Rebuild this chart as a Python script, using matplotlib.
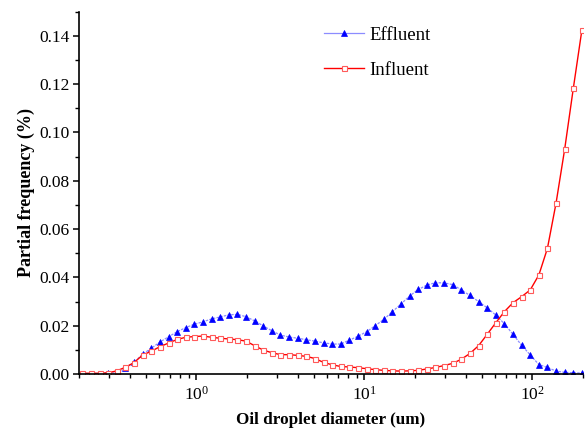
import matplotlib

matplotlib.use("Agg")

import matplotlib.pyplot as plt
from matplotlib.ticker import FixedLocator, LogLocator, NullFormatter, FormatStrFormatter

plt.rcParams["font.family"] = ["Liberation Serif", "DejaVu Serif"]
plt.rcParams["mathtext.fontset"] = "stix"

# droplet size classes (um)
diameter = [
    0.209, 0.236, 0.265, 0.298, 0.336, 0.378, 0.425, 0.479, 0.539, 0.606,
    0.682, 0.768, 0.864, 0.972, 1.094, 1.231, 1.385, 1.559, 1.754, 1.974,
    2.221, 2.499, 2.813, 3.165, 3.562, 4.008, 4.510, 5.075, 5.711, 6.427,
    7.232, 8.138, 9.158, 10.31, 11.60, 13.05, 14.68, 16.52, 18.59, 20.92,
    23.55, 26.50, 29.82, 33.55, 37.76, 42.49, 47.81, 53.80, 60.55, 68.13,
    76.67, 86.28, 97.09, 109.3, 122.9, 138.3, 155.7, 175.2, 197.1,
]

effluent = [
    0.0002, 0.0002, 0.0002, 0.0006, 0.0003, 0.0024, 0.0049, 0.0082, 0.0107, 0.0132,
    0.0154, 0.0175, 0.0192, 0.0206, 0.0216, 0.0228, 0.0236, 0.0245, 0.0247, 0.0237,
    0.0220, 0.0199, 0.0179, 0.0161, 0.0153, 0.0148, 0.0142, 0.0136, 0.0129, 0.0124,
    0.0124, 0.0140, 0.0156, 0.0175, 0.0200, 0.0226, 0.0258, 0.0290, 0.0323, 0.0350,
    0.0368, 0.0378, 0.0377, 0.0370, 0.0348, 0.0325, 0.0300, 0.0274, 0.0244, 0.0208,
    0.0164, 0.0119, 0.0079, 0.0039, 0.0027, 0.0012, 0.0007, 0.0005, 0.0004,
]

influent = [
    0.0003, 0.0003, 0.0003, 0.0005, 0.0013, 0.0028, 0.0047, 0.0079, 0.0094, 0.0113,
    0.0128, 0.0143, 0.0152, 0.0155, 0.0157, 0.0152, 0.0148, 0.0145, 0.0142, 0.0136,
    0.0117, 0.0099, 0.0088, 0.0080, 0.0080, 0.0077, 0.0073, 0.0064, 0.0048, 0.0038,
    0.0031, 0.0029, 0.0026, 0.0022, 0.0018, 0.0015, 0.0013, 0.0012, 0.0013, 0.0015,
    0.0021, 0.0027, 0.0035, 0.0044, 0.0061, 0.0085, 0.0117, 0.0164, 0.0212, 0.0258,
    0.0295, 0.0320, 0.0348, 0.0410, 0.0520, 0.0707, 0.0931, 0.1182, 0.1424,
]

y_ticks = [0.00, 0.02, 0.04, 0.06, 0.08, 0.10, 0.12, 0.14]
y_minor = [0.01, 0.03, 0.05, 0.07, 0.09, 0.11, 0.13, 0.15]

fig = plt.figure(figsize=(5.87, 4.28), dpi=100)
ax = fig.add_axes([0.1346, 0.1262, 0.8585, 0.8465])

ax.plot(
    diameter,
    effluent,
    color="#8c8cff",
    linewidth=0.9,
    linestyle=(0, (2.0, 1.0)),
    marker="^",
    markersize=4.2,
    markerfacecolor="#0000ff",
    markeredgecolor="#0000ff",
    markeredgewidth=0.5,
    label="Effluent",
)
ax.plot(
    diameter,
    influent,
    color="#ff0000",
    linewidth=1.0,
    marker="s",
    markersize=3.6,
    markerfacecolor="white",
    markeredgecolor="#ff5a5a",
    markeredgewidth=0.8,
    label="Influent",
)

ax.set_xscale("log")
ax.set_xlim(0.2, 200)
ax.set_ylim(0, 0.15)
ax.xaxis.set_major_locator(LogLocator(base=10, numticks=10))
ax.xaxis.set_minor_locator(LogLocator(base=10, subs=range(2, 10), numticks=20))
ax.xaxis.set_minor_formatter(NullFormatter())
ax.yaxis.set_major_locator(FixedLocator(y_ticks))
ax.yaxis.set_minor_locator(FixedLocator(y_minor))
ax.yaxis.set_major_formatter(FormatStrFormatter("%.2f"))

ax.spines[["top", "right"]].set_visible(False)
for side in ["left", "bottom"]:
    ax.spines[side].set_linewidth(1.2)
ax.tick_params(which="major", direction="out", length=4.3, width=1.1, labelsize=12.5, pad=2.5)
ax.tick_params(axis="x", which="major", pad=4.5)
ax.tick_params(which="minor", direction="out", length=2.6, width=1.0)

ax.set_xlabel("Oil droplet diameter (um)", fontsize=12.3, fontweight="bold", labelpad=6)
ax.set_ylabel("Partial frequency (%)", fontsize=13, fontweight="bold", labelpad=3)

leg = ax.legend(
    loc="upper left",
    bbox_to_anchor=(0.487, 0.958),
    frameon=False,
    fontsize=13.5,
    handlelength=2.1,
    handletextpad=0.3,
    labelspacing=0.95,
    borderpad=0,
    borderaxespad=0,
)
leg.get_lines()[0].set_linestyle("-")

fig.savefig("out.png", dpi=100)
